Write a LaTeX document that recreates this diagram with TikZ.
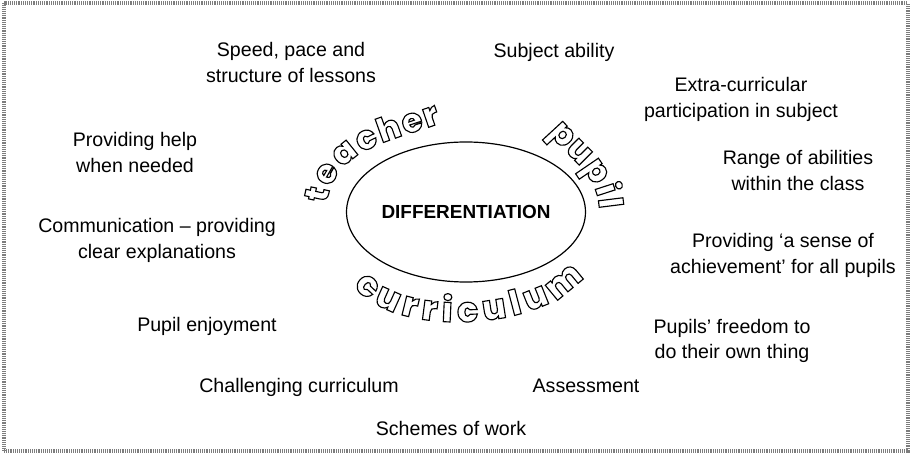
\documentclass[tikz,border=0pt]{standalone}
\usepackage{fontspec}
\setmainfont{Liberation Sans}
\IfFontExistsTF{Poppins ExtraBold}
	{\newfontfamily\roundfont{Poppins ExtraBold}}
	{\newfontfamily\roundfont{DejaVu Sans Bold}}
\usepackage{tikz}
\usetikzlibrary{positioning,shapes.geometric,decorations.text}
\definecolor{framegrey}{RGB}{125,125,125}

% glyphs drawn as outlines only (pdf text render mode 1)
\makeatletter
\newcommand{\hollowglyphs}{\pgfsys@invoke{1 Tr}}
\makeatother

\begin{document}
\begin{tikzpicture}[x=0.75pt, y=0.75pt]
	\tikzset{
		idea/.style={
			font=\fontsize{14.7pt}{19.2pt}\selectfont,
			align=center,
			anchor=base,
			inner sep=0pt
		},
		hub/.style={
			shape=ellipse,
			draw=black,
			line width=0.9pt,
			minimum width=179pt,
			minimum height=105pt,
			inner sep=0pt,
			font=\bfseries\fontsize{14.2pt}{14.2pt}\selectfont
		},
		curvetext/.style 2 args={
			decorate,
			decoration={text along path, text align={fit to path},
				text={|\roundfont\fontsize{#1}{#1}\selectfont|#2}}
		}
	}
	\useasboundingbox (0,0) rectangle (911,461);
	\draw[framegrey, line width=3pt, dash pattern=on 0.7pt off 0.7pt] (3.5,457.5) rectangle (907.5,10);
	
	\node[hub] (diff) at (466,249) {DIFFERENTIATION};
	
	\begin{scope}[line width=0.85pt]
		\hollowglyphs
		\path[curvetext={25pt}{teacher}] (327,257.5) to[out=83,in=200] (441,338);
		\path[curvetext={25pt}{pupil}] (548,328.6) to[out=-51,in=93] (599.3,251.8);
		\path[curvetext={26pt}{curriculum}] (353.5,175.4) to[out=-53,in=235,looseness=0.75] (583,184.7);
	\end{scope}
	
	\node[idea] (speed) at (291,378.4) {Speed, pace and\\structure of lessons};
	\node[idea] (subject) at (554,403) {Subject ability};
	\node[idea] (extra) at (741,343.4) {Extra-curricular\\participation in subject};
	\node[idea] (help) at (135,288.4) {Providing help\\when needed};
	\node[idea] (range) at (798,270.4) {Range of abilities\\within the class};
	\node[idea] (comm) at (157,202.4) {Communication -- providing\\clear explanations};
	\node[idea] (sense) at (783,187.4) {Providing `a sense of\\achievement' for all pupils};
	\node[idea] (enjoy) at (207,129) {Pupil enjoyment};
	\node[idea] (freedom) at (732,102.4) {Pupils' freedom to\\do their own thing};
	\node[idea] (challenge) at (299,69) {Challenging curriculum};
	\node[idea] (assess) at (586,69) {Assessment};
	\node[idea] (schemes) at (451,26) {Schemes of work};
\end{tikzpicture}
\end{document}
